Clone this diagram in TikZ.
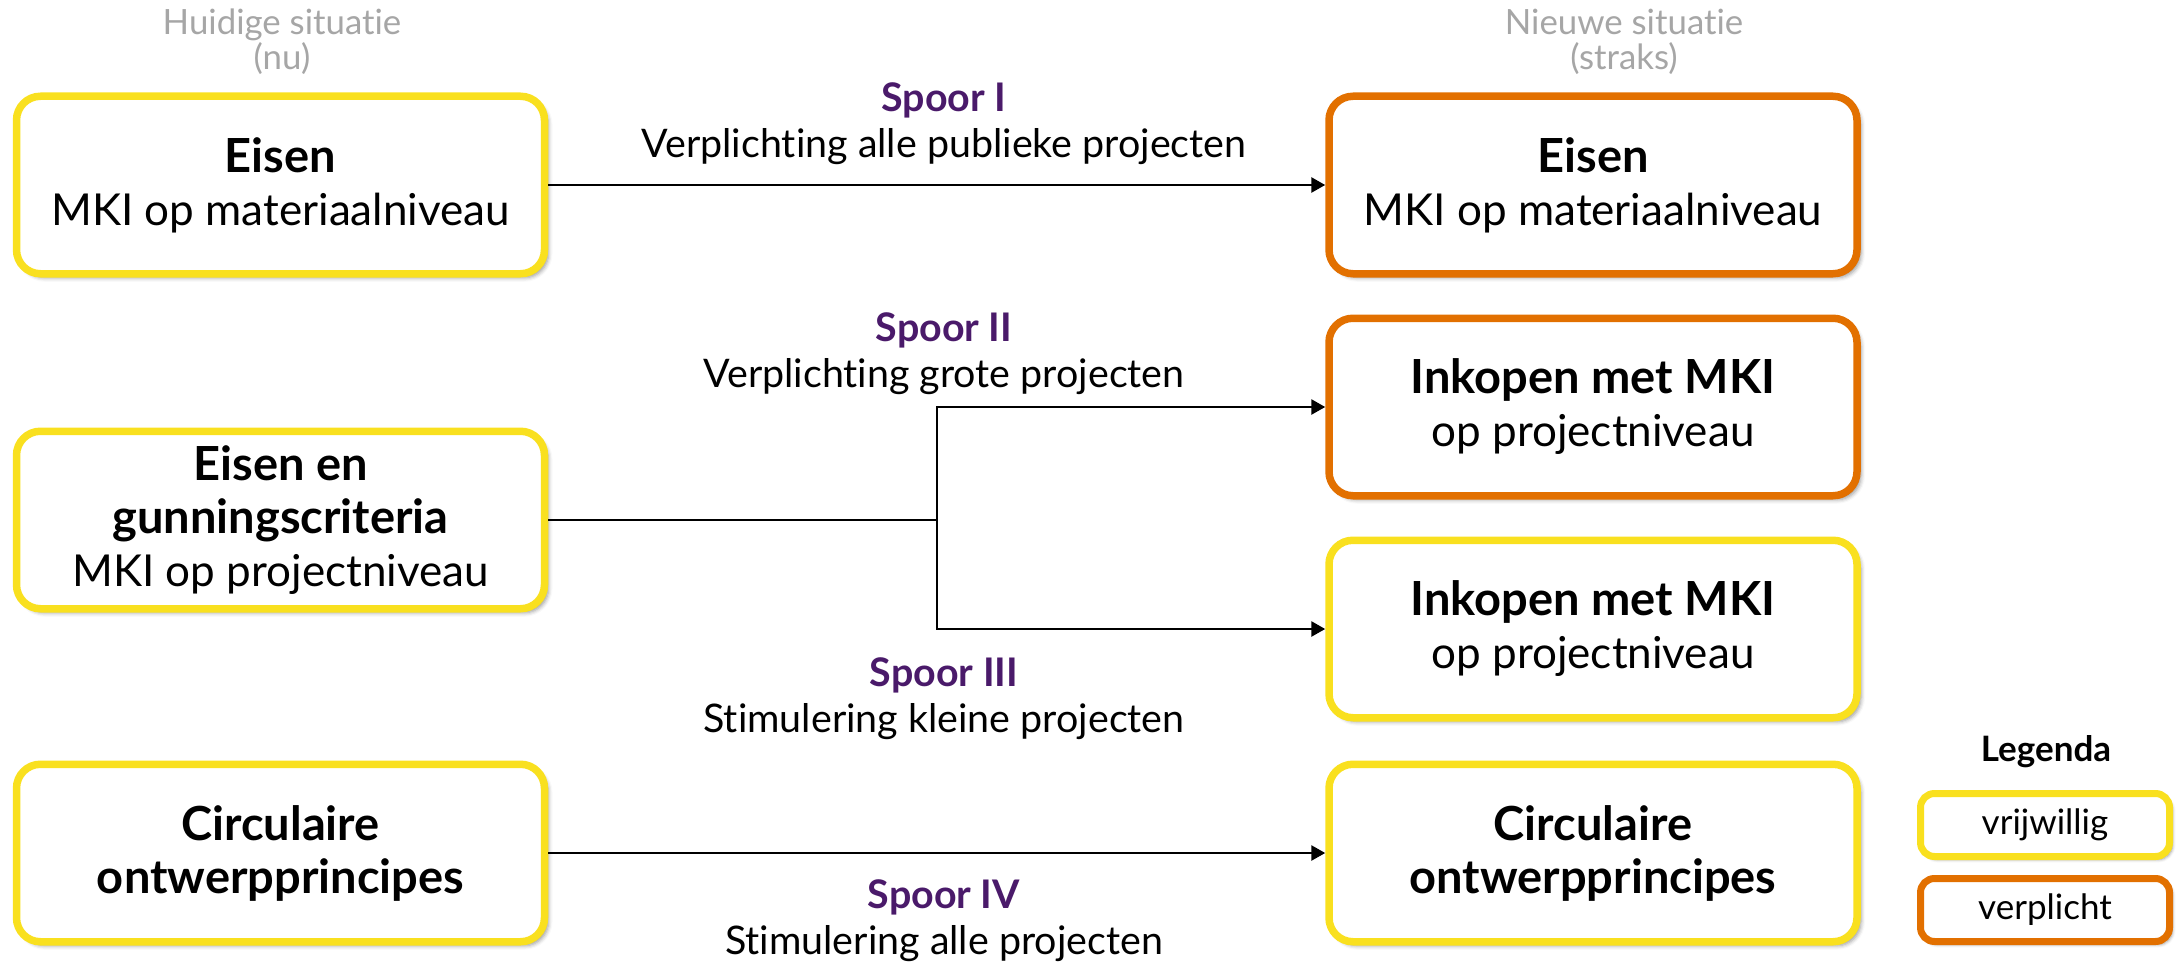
\documentclass[tikz,border=0pt]{standalone}
\usepackage{fontspec}
\setmainfont{Lato}[Ligatures={NoCommon}]
\usetikzlibrary{arrows.meta,shadows.blur}
\definecolor{geel}{HTML}{F9E01F}
\definecolor{oranje}{HTML}{E27000}
\definecolor{paars}{HTML}{4A1A6A}
\definecolor{grijs}{HTML}{A6A6A6}
\newcommand\boxbold[1]{{\fontsize{23.5}{26.5}\selectfont\bfseries #1}}
\tikzset{
  box/.style={draw, rounded corners=12pt, line width=3.75pt, fill=white,
    minimum width=264pt, minimum height=88.75pt, align=center,
    inner sep=0pt, font=\fontsize{22}{26.5}\selectfont,
    blur shadow={shadow xshift=2pt, shadow yshift=-2pt, shadow blur radius=2pt, shadow opacity=40}},
  vrij/.style={box, draw=geel},
  verpl/.style={box, draw=oranje},
  legbox/.style={draw, rounded corners=7pt, line width=3.5pt, fill=white,
    minimum width=124.5pt, minimum height=31.5pt, inner sep=0pt,
    font=\fontsize{17.5}{20}\selectfont,
    blur shadow={shadow xshift=1.5pt, shadow yshift=-1.5pt, shadow blur radius=1.5pt, shadow opacity=40}},
  spoorlabel/.style={align=center, font=\fontsize{19.7}{23}\selectfont},
  header/.style={align=center, text=grijs, font=\fontsize{17.4}{17.5}\selectfont},
  conn/.style={line width=1.35pt, -{Triangle[length=7pt,width=7.5pt]}},
  plain/.style={line width=1.35pt}
}
\begin{document}
\begin{tikzpicture}[x=0.5pt,y=-0.5pt]
\useasboundingbox (0,0) rectangle (2180,963);
% headers
\node[header] (hnu) at (282,42) {Huidige situatie\\(nu)};
\node[header] (hstraks) at (1624,42) {Nieuwe situatie\\(straks)};
% left column
\node[vrij] (l1) at (280.5,185) {\boxbold{Eisen}\\MKI op materiaalniveau};
\node[vrij] (l2) at (280.5,520) {\boxbold{Eisen en}\\\boxbold{gunningscriteria}\\MKI op projectniveau};
\node[vrij] (l3) at (280.5,853) {\boxbold{Circulaire}\\\boxbold{ontwerpprincipes}};
% right column
\node[verpl] (r1) at (1593,185) {\boxbold{Eisen}\\MKI op materiaalniveau};
\node[verpl] (r2) at (1593,407) {\boxbold{Inkopen met MKI}\\op projectniveau};
\node[vrij] (r3) at (1593,629) {\boxbold{Inkopen met MKI}\\op projectniveau};
\node[vrij] (r4) at (1593,853) {\boxbold{Circulaire}\\\boxbold{ontwerpprincipes}};
% connectors
\coordinate (split) at (937,520);
\draw[conn] (l1) -- (r1);
\draw[plain] (l2.east) -- (split);
\draw[conn] (split) |- (r2.west);
\draw[conn] (split) |- (r3.west);
\draw[conn] (l3) -- (r4);
% spoor labels
\node[spoorlabel] (s1) at (944,124) {\textcolor{paars}{\textbf{Spoor I}}\\Verplichting alle publieke projecten};
\node[spoorlabel] (s2) at (944,354) {\textcolor{paars}{\textbf{Spoor II}}\\Verplichting grote projecten};
\node[spoorlabel] (s3) at (944,699) {\textcolor{paars}{\textbf{Spoor III}}\\Stimulering kleine projecten};
\node[spoorlabel] (s4) at (944,921) {\textcolor{paars}{\textbf{Spoor IV}}\\Stimulering alle projecten};
% legend
\node[font=\bfseries\fontsize{17.5}{20}\selectfont] (leg) at (2046,752) {Legenda};
\node[legbox, draw=geel] (lv) at (2045,825) {vrijwillig};
\node[legbox, draw=oranje] (lo) at (2045,910) {verplicht};
\end{tikzpicture}
\end{document}
